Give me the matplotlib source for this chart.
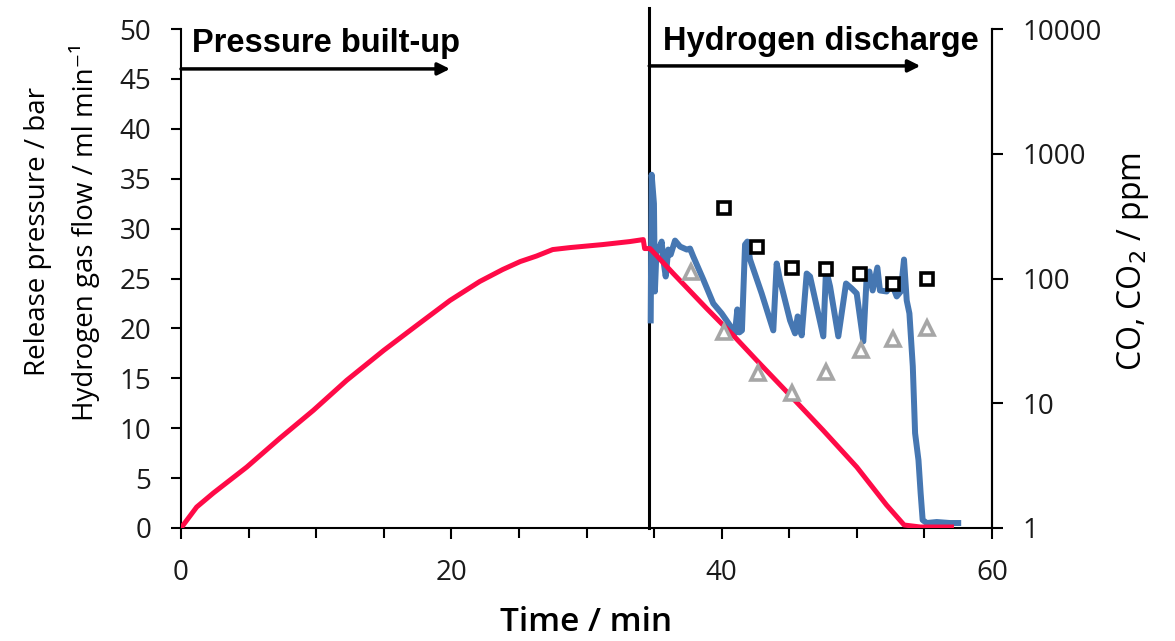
import matplotlib
matplotlib.use("Agg")
import matplotlib.pyplot as plt
from matplotlib.ticker import FixedLocator, NullLocator, FixedFormatter

plt.rcParams['font.family'] = ['Open Sans', 'DejaVu Sans']

# ---- data ----
red_t = [0, 1.16, 2.39, 4.86, 7.32, 9.8, 12.26, 15.0, 17.44, 19.9, 22.1, 23.8, 25.1, 26.3,
         27.5, 28.8, 31.2, 33.2, 34.2, 34.3, 34.7,
         36.42, 38.89, 40.86, 42.59, 45.06, 47.5, 50.0, 52.2, 53.5, 54.7, 57.0]
red_v = [0, 2.1, 3.5, 6.1, 9.0, 11.8, 14.8, 17.8, 20.3, 22.8, 24.7, 25.9, 26.7, 27.25,
         27.9, 28.1, 28.4, 28.7, 28.9, 28.0, 28.0,
         25.5, 22.0, 19.3, 16.8, 13.3, 9.8, 6.1, 2.3, 0.3, 0.1, 0.1]

blue_t = [34.75, 34.82, 34.99, 35.06, 35.19, 35.39, 35.56, 35.68, 35.86, 36.05, 36.23,
          36.55, 36.92, 37.42, 37.66, 37.90, 38.64, 39.38, 40.0, 40.61, 40.98, 41.16,
          41.31, 41.50, 41.73, 41.9, 42.1, 42.96, 43.82, 44.07, 44.32, 45.06, 45.43,
          45.62, 45.92, 46.29, 46.54, 47.52, 47.72, 48.02, 48.63, 49.2, 49.62, 49.99,
          50.48, 50.73, 50.93, 51.17, 51.52, 51.71, 52.21, 52.58, 52.95, 53.25, 53.49,
          53.69, 53.89, 54.14, 54.31, 54.56, 54.72, 54.87, 55.17, 55.91, 56.89, 57.5]
blue_v = [20.8, 35.4, 32.5, 23.7, 28.2, 27.9, 28.7, 26.9, 25.2, 27.9, 27.4,
          28.8, 28.2, 27.9, 28.0, 27.2, 24.9, 22.5, 21.5, 20.3, 19.5, 21.9,
          19.6, 19.8, 28.4, 28.7, 26.9, 23.5, 19.8, 26.5, 24.8, 20.8, 19.5,
          21.2, 19.3, 25.5, 25.2, 19.2, 25.9, 24.2, 19.2, 24.5, 24.0, 23.5,
          18.7, 25.2, 25.7, 23.8, 26.1, 23.8, 23.7, 24.5, 23.2, 23.7, 26.9,
          22.8, 21.5, 16.2, 9.5, 6.8, 3.5, 0.8, 0.5, 0.6, 0.5, 0.5]

co_t = [40.2, 42.65, 45.2, 47.7, 50.2, 52.7, 55.2]          # squares
co_v = [365, 178, 121, 119, 109, 90, 100]
co2_t = [37.7, 40.2, 42.7, 45.2, 47.7, 50.3, 52.7, 55.2]    # triangles
co2_v = [113, 37.5, 17.6, 12.0, 17.9, 26.7, 32.5, 40]

phase_t = 34.64
x_ticks = [0, 20, 40, 60]
y_ticks = [0, 5, 10, 15, 20, 25, 30, 35, 40, 45, 50]
r_ticks = [1, 10, 100, 1000, 10000]
r_labels = ['1', '10', '100', '1000', '10000']

# ---- figure ----
W, H = 1175, 641
fig = plt.figure(figsize=(W / 100, H / 100), dpi=100)
ax = fig.add_axes([181 / W, 1 - 528 / H, (992 - 181) / W, (528 - 29) / H])

ax.set_xlim(0, 60)
ax.set_ylim(0, 50)

ax.axvline(phase_t, ymin=0, ymax=1.042, color='black', lw=2.2, clip_on=False, zorder=2)
ax.plot(blue_t, blue_v, color='#4677B2', lw=4.3, solid_joinstyle='round', zorder=3)
ax.plot(red_t, red_v, color='#FF0A47', lw=3.6, solid_joinstyle='round', zorder=4)

ax2 = ax.twinx()
ax2.set_yscale('log')
ax2.set_ylim(1, 10000)
ax2.plot(co_t, co_v, ls='none', marker='s', ms=9, mew=2.6, mec='black', mfc='white', zorder=5)
ax2.plot(co2_t, co2_v, ls='none', marker='^', ms=9.5, mew=2.6, mec='#A6A6A6', mfc='white', zorder=5)
ax2.yaxis.set_major_locator(FixedLocator(r_ticks))
ax2.yaxis.set_major_formatter(FixedFormatter(r_labels))
ax2.yaxis.set_minor_locator(NullLocator())

for a in (ax, ax2):
    a.spines['top'].set_visible(False)
    for s in a.spines.values():
        s.set_linewidth(1.5)
ax2.spines['left'].set_visible(False)
ax2.spines['bottom'].set_visible(False)

ax.set_xticks(x_ticks)
ax.set_xticks(range(0, 61, 5), minor=True)
ax.set_yticks(y_ticks)
ax.tick_params(axis='x', which='major', direction='out', length=8, width=1.5, labelsize=20, pad=14)
ax.tick_params(axis='x', which='minor', direction='out', length=7, width=1.5)
ax.tick_params(axis='y', which='major', direction='out', length=7.5, width=1.5, labelsize=20, pad=14)
ax.tick_params(axis='y', which='minor', left=False)
ax2.tick_params(axis='y', which='major', direction='out', length=8, width=1.5, labelsize=20, pad=14)
for lab in ax.get_xticklabels() + ax.get_yticklabels() + ax2.get_yticklabels():
    lab.set_color('#1a1a1a')

# axis labels
fig.text(586 / W, 1 - 631 / H, 'Time / min', ha='center', va='baseline', fontsize=24, fontweight='semibold')
fig.text(38 / W, 1 - 232 / H, 'Release pressure / bar', rotation=90, ha='center', va='center', fontsize=20)
fig.text(85 / W, 1 - 232 / H, 'Hydrogen gas flow / ml min\u207b\u00b9', rotation=90, ha='center', va='center', fontsize=20)
fig.text(1133 / W, 1 - 262 / H, 'CO, CO$_2$ / ppm', rotation=90, ha='center', va='center', fontsize=23)

# phase annotations
ax.annotate('', xy=(19.9, 46.0), xytext=(0, 46.0),
            arrowprops=dict(arrowstyle='-|>', lw=2.5, color='black', mutation_scale=18, shrinkA=0, shrinkB=0))
ax.annotate('', xy=(54.7, 46.3), xytext=(phase_t, 46.3),
            arrowprops=dict(arrowstyle='-|>', lw=2.5, color='black', mutation_scale=18, shrinkA=0, shrinkB=0))
ax.text(0.8, 47.7, 'Pressure built-up', fontsize=23.5, fontweight='bold', family='Liberation Sans', va='baseline')
ax.text(35.66, 47.9, 'Hydrogen discharge', fontsize=23.5, fontweight='bold', family='Liberation Sans', va='baseline')

fig.savefig('out.png', dpi=100)
